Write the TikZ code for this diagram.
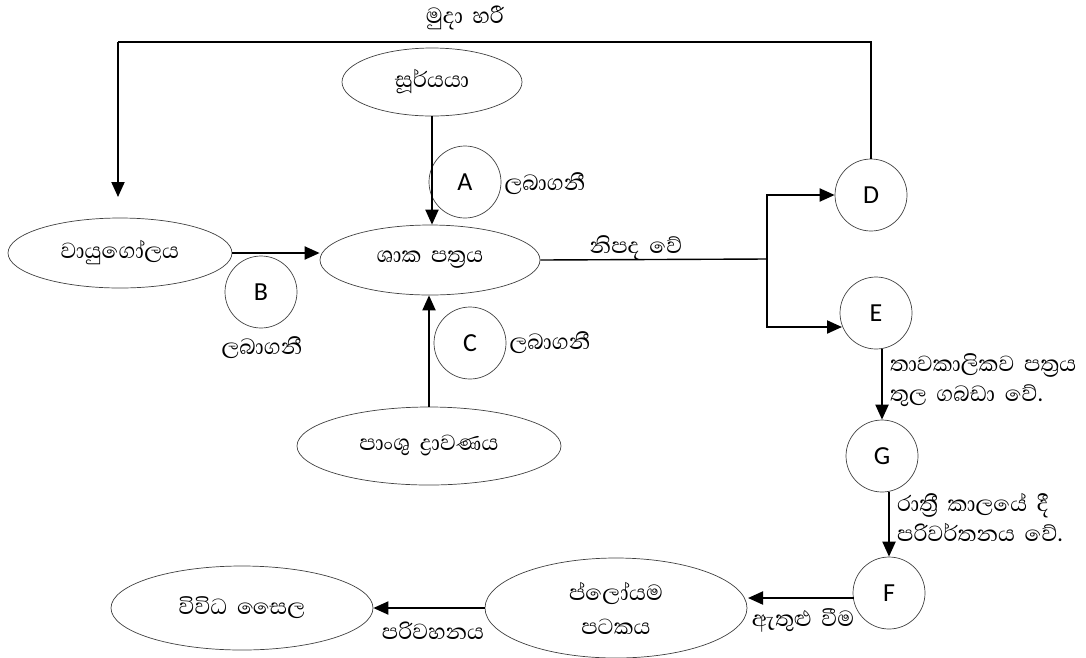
\documentclass[tikz,border=0pt]{standalone}
\usepackage{fontspec}
\setmainfont{Carlito}
\newfontfamily\sinhalafont[Script=Sinhala,WordSpace=1.8]{Abhaya Libre}
\usetikzlibrary{shapes.geometric,arrows.meta,calc}

\begin{document}
\begin{tikzpicture}[x=1pt,y=-1pt,
  oval/.style={ellipse,draw=black!75,line width=0.7pt,inner sep=0pt,align=center,
               font=\sinhalafont\fontsize{28}{34}\selectfont},
  ring/.style={circle,draw=black!75,line width=0.7pt,minimum size=72pt,inner sep=0pt,
               font=\fontsize{26}{26}\selectfont},
  si/.style={font=\sinhalafont\fontsize{28}{30}\selectfont,align=left,inner sep=0pt},
  arr/.style={line width=2pt,-{Triangle[length=15pt,width=13pt]}},
  link/.style={line width=1.4pt}]
\useasboundingbox (0,0) rectangle (1086,657);

% sources and the leaf
\node[oval,minimum width=180pt,minimum height=68pt] (sun) at (432,82) {සූර්යයා};
\node[oval,minimum width=224pt,minimum height=70pt] (atm) at (120,253) {වායුගෝලය};
\node[oval,minimum width=220pt,minimum height=70pt] (leaf) at (430,260) {ශාක පත්^^^^200dරය};
\node[oval,minimum width=264pt,minimum height=78pt] (soil) at (429,446) {පාංශු ද්^^^^200dරාවණය};

% transport to the cells
\node[oval,minimum width=262pt,minimum height=100pt] (phl) at (616,608) {ප්ලෝයම\\පටකය};
\node[oval,minimum width=262pt,minimum height=84pt] (cells) at (242,608) {විවිධ සෛල};

% lettered steps
\node[ring] (A) at (465,182) {A};
\node[ring] (B) at (261,292) {B};
\node[ring] (C) at (470,343) {C};
\node[ring] (D) at (871,195) {D};
\node[ring] (E) at (876,313) {E};
\node[ring] (G) at (882,456) {G};
\node[ring] (F) at (889,593) {F};

% labels
\node[si] (top) at (465,18) {මුදා හරී};
\node[si,anchor=west] (la) at ($(A.east)+(3,2)$) {ලබාගනී};
\node[si] (lb) at (262,348) {ලබාගනී};
\node[si,anchor=west] (lc) at ($(C.east)+(3,0)$) {ලබාගනී};
\node[si] (made) at (636,248) {නිපද වේ};
\node[si,anchor=west] (store) at (890,380) {තාවකාලිකව පත්^^^^200dරය\\තුල ගබඩා වේ.};
\node[si,anchor=west] (conv) at (897,517) {රාත්^^^^200dරී කාලයේ දී\\පරිවර්තනය වේ.};
\node[si] (enter) at (803,620) {ඇතුළු වීම};
\node[si] (trans) at (433,631) {පරිවහනය};

% inputs to the leaf
\draw[arr] (sun.south) -- (sun.south |- leaf.north);
\draw[arr] (atm.east) -- (atm.east -| leaf.west);
\draw[arr] (soil.north) -- (soil.north |- leaf.south);

% products of the leaf
\coordinate (br) at (767,259);
\draw[link] (leaf.east) -- (br);
\draw[arr] (br) |- (D.west);
\draw[arr] (br) |- ($(E.center)+(-34,14)$);

% release back to the air
\coordinate (ret) at (118,42);
\coordinate (atmtip) at (118,197);
\draw[link] (D.north) |- (ret);
\draw[arr] (ret) -- (atmtip);

% storage, conversion and transport
\draw[arr] (E.south -| G) -- (G.north);
\draw[arr] (G.south -| F) -- (F.north);
\draw[arr] ($(F.center)+(-35,5)$) -- ($(phl.center)+(132,-10)$);
\draw[arr] (phl.west) -- (cells.east);
\end{tikzpicture}
\end{document}
